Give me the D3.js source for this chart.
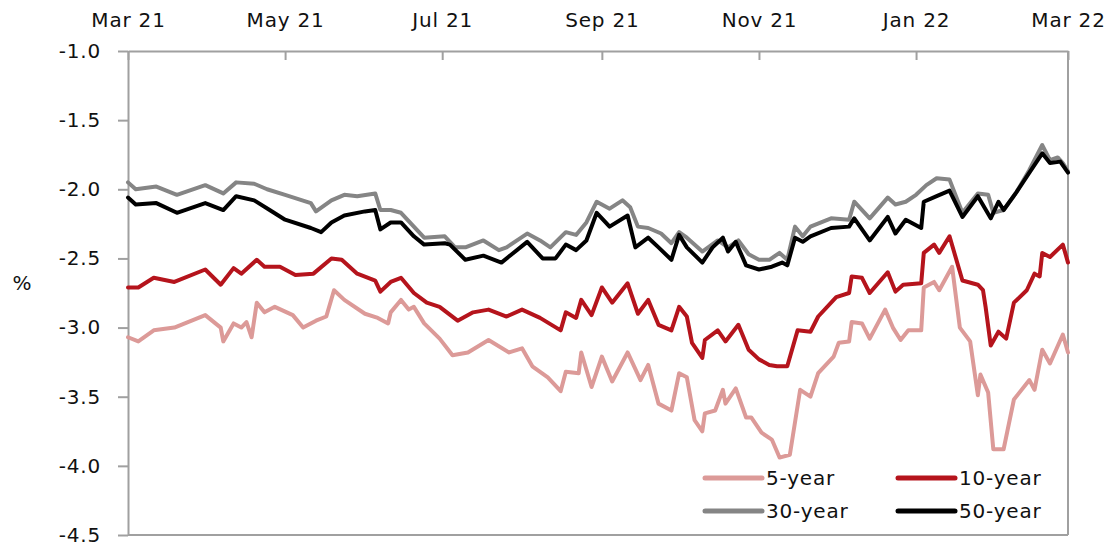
<!DOCTYPE html>
<html>
<head>
<meta charset="utf-8">
<script src="https://cdn.jsdelivr.net/npm/d3@7/dist/d3.min.js"></script>
<style>
    body { margin: 0; background: #fff; }
    svg text { font-family: "DejaVu Sans", Verdana, sans-serif; }
</style>
</head>
<body>
<svg width="1109" height="546"></svg>
<script>
var fiveYear = [
    ["2021-03-01",-3.07],["2021-03-05",-3.10],["2021-03-11",-3.02],["2021-03-19",-3.00],["2021-03-31",-2.91],
    ["2021-04-06",-3.00],["2021-04-07",-3.10],["2021-04-11",-2.97],["2021-04-14",-3.00],["2021-04-16",-2.96],
    ["2021-04-18",-3.07],["2021-04-20",-2.82],["2021-04-23",-2.89],["2021-04-27",-2.85],["2021-05-04",-2.91],
    ["2021-05-08",-3.00],["2021-05-13",-2.95],["2021-05-17",-2.92],["2021-05-20",-2.73],["2021-05-24",-2.80],
    ["2021-06-01",-2.90],["2021-06-06",-2.93],["2021-06-10",-2.97],["2021-06-11",-2.89],["2021-06-15",-2.80],
    ["2021-06-18",-2.87],["2021-06-20",-2.85],["2021-06-24",-2.97],["2021-06-30",-3.08],["2021-07-05",-3.20],
    ["2021-07-11",-3.18],["2021-07-19",-3.09],["2021-07-27",-3.18],["2021-08-01",-3.15],["2021-08-05",-3.28],
    ["2021-08-11",-3.36],["2021-08-16",-3.46],["2021-08-18",-3.32],["2021-08-23",-3.33],["2021-08-24",-3.18],
    ["2021-08-28",-3.43],["2021-09-01",-3.21],["2021-09-05",-3.39],["2021-09-11",-3.18],["2021-09-16",-3.38],
    ["2021-09-19",-3.27],["2021-09-23",-3.55],["2021-09-28",-3.60],["2021-10-01",-3.33],["2021-10-04",-3.36],
    ["2021-10-07",-3.67],["2021-10-10",-3.75],["2021-10-11",-3.62],["2021-10-15",-3.60],["2021-10-18",-3.45],
    ["2021-10-19",-3.55],["2021-10-23",-3.44],["2021-10-27",-3.65],["2021-10-29",-3.65],["2021-11-02",-3.76],
    ["2021-11-06",-3.81],["2021-11-09",-3.94],["2021-11-13",-3.92],["2021-11-17",-3.45],["2021-11-21",-3.50],
    ["2021-11-24",-3.33],["2021-11-30",-3.21],["2021-12-02",-3.11],["2021-12-06",-3.10],["2021-12-07",-2.96],
    ["2021-12-11",-2.97],["2021-12-14",-3.08],["2021-12-20",-2.87],["2021-12-23",-3.00],["2021-12-26",-3.09],
    ["2021-12-29",-3.02],["2022-01-03",-3.02],["2022-01-04",-2.71],["2022-01-08",-2.67],["2022-01-10",-2.73],
    ["2022-01-15",-2.56],["2022-01-18",-3.00],["2022-01-22",-3.10],["2022-01-25",-3.49],["2022-01-26",-3.34],
    ["2022-01-29",-3.47],["2022-01-31",-3.88],["2022-02-04",-3.88],["2022-02-08",-3.52],["2022-02-14",-3.38],
    ["2022-02-16",-3.45],["2022-02-19",-3.16],["2022-02-22",-3.26],["2022-02-27",-3.05],["2022-03-01",-3.18]
];
var tenYear = [
    ["2021-03-01",-2.71],["2021-03-05",-2.71],["2021-03-11",-2.64],["2021-03-19",-2.67],["2021-03-31",-2.58],
    ["2021-04-06",-2.69],["2021-04-11",-2.57],["2021-04-14",-2.61],["2021-04-20",-2.51],["2021-04-23",-2.56],
    ["2021-04-29",-2.56],["2021-05-05",-2.62],["2021-05-12",-2.61],["2021-05-19",-2.50],["2021-05-23",-2.51],
    ["2021-05-29",-2.61],["2021-06-05",-2.66],["2021-06-07",-2.74],["2021-06-11",-2.67],["2021-06-15",-2.64],
    ["2021-06-20",-2.75],["2021-06-25",-2.82],["2021-06-30",-2.85],["2021-07-07",-2.95],["2021-07-13",-2.89],
    ["2021-07-19",-2.87],["2021-07-26",-2.92],["2021-08-01",-2.87],["2021-08-08",-2.93],["2021-08-16",-3.02],
    ["2021-08-18",-2.89],["2021-08-22",-2.93],["2021-08-24",-2.80],["2021-08-28",-2.91],["2021-09-01",-2.71],
    ["2021-09-05",-2.82],["2021-09-11",-2.68],["2021-09-15",-2.90],["2021-09-19",-2.80],["2021-09-23",-2.98],
    ["2021-09-28",-3.02],["2021-10-01",-2.85],["2021-10-04",-2.92],["2021-10-06",-3.11],["2021-10-10",-3.22],
    ["2021-10-11",-3.09],["2021-10-16",-3.02],["2021-10-19",-3.10],["2021-10-24",-2.98],["2021-10-28",-3.16],
    ["2021-11-01",-3.23],["2021-11-05",-3.27],["2021-11-08",-3.28],["2021-11-12",-3.28],["2021-11-16",-3.02],
    ["2021-11-21",-3.03],["2021-11-24",-2.92],["2021-12-01",-2.78],["2021-12-06",-2.75],["2021-12-07",-2.63],
    ["2021-12-11",-2.64],["2021-12-14",-2.75],["2021-12-21",-2.60],["2021-12-24",-2.74],["2021-12-27",-2.69],
    ["2022-01-03",-2.68],["2022-01-04",-2.46],["2022-01-08",-2.40],["2022-01-10",-2.46],["2022-01-14",-2.34],
    ["2022-01-19",-2.66],["2022-01-25",-2.69],["2022-01-27",-2.73],["2022-01-28",-2.85],["2022-01-30",-3.13],
    ["2022-02-02",-3.03],["2022-02-05",-3.08],["2022-02-08",-2.82],["2022-02-13",-2.73],["2022-02-16",-2.61],
    ["2022-02-18",-2.63],["2022-02-19",-2.46],["2022-02-22",-2.49],["2022-02-27",-2.40],["2022-03-01",-2.53]
];
var thirtyYear = [
    ["2021-03-01",-1.95],["2021-03-04",-2.00],["2021-03-12",-1.98],["2021-03-20",-2.04],["2021-03-31",-1.97],
    ["2021-04-07",-2.03],["2021-04-12",-1.95],["2021-04-19",-1.96],["2021-04-24",-2.00],["2021-05-01",-2.04],
    ["2021-05-11",-2.10],["2021-05-13",-2.16],["2021-05-19",-2.08],["2021-05-24",-2.04],["2021-05-29",-2.05],
    ["2021-06-05",-2.03],["2021-06-07",-2.15],["2021-06-11",-2.15],["2021-06-15",-2.17],["2021-06-20",-2.27],
    ["2021-06-24",-2.35],["2021-07-02",-2.34],["2021-07-06",-2.42],["2021-07-10",-2.42],["2021-07-17",-2.37],
    ["2021-07-23",-2.44],["2021-07-26",-2.42],["2021-08-03",-2.32],["2021-08-08",-2.37],["2021-08-12",-2.42],
    ["2021-08-18",-2.31],["2021-08-22",-2.33],["2021-08-26",-2.24],["2021-08-30",-2.09],["2021-09-04",-2.14],
    ["2021-09-09",-2.08],["2021-09-12",-2.13],["2021-09-15",-2.27],["2021-09-19",-2.28],["2021-09-24",-2.32],
    ["2021-09-28",-2.39],["2021-10-01",-2.31],["2021-10-04",-2.35],["2021-10-10",-2.45],["2021-10-16",-2.37],
    ["2021-10-20",-2.42],["2021-10-24",-2.37],["2021-10-28",-2.47],["2021-11-01",-2.51],["2021-11-05",-2.51],
    ["2021-11-09",-2.46],["2021-11-12",-2.51],["2021-11-15",-2.27],["2021-11-18",-2.34],["2021-11-21",-2.27],
    ["2021-11-29",-2.21],["2021-12-06",-2.22],["2021-12-08",-2.09],["2021-12-14",-2.21],["2021-12-21",-2.06],
    ["2021-12-24",-2.11],["2021-12-28",-2.09],["2022-01-01",-2.04],["2022-01-05",-1.97],["2022-01-09",-1.92],
    ["2022-01-14",-1.93],["2022-01-19",-2.17],["2022-01-25",-2.03],["2022-01-29",-2.04],["2022-01-31",-2.17],
    ["2022-02-04",-2.15],["2022-02-09",-2.02],["2022-02-14",-1.86],["2022-02-19",-1.68],["2022-02-22",-1.79],
    ["2022-02-25",-1.77],["2022-02-27",-1.81],["2022-03-01",-1.87]
];
var fiftyYear = [
    ["2021-03-01",-2.06],["2021-03-04",-2.11],["2021-03-12",-2.10],["2021-03-20",-2.17],["2021-03-31",-2.10],
    ["2021-04-07",-2.15],["2021-04-12",-2.05],["2021-04-19",-2.08],["2021-04-25",-2.15],["2021-05-01",-2.22],
    ["2021-05-11",-2.28],["2021-05-15",-2.31],["2021-05-19",-2.24],["2021-05-24",-2.19],["2021-06-01",-2.16],
    ["2021-06-05",-2.15],["2021-06-07",-2.29],["2021-06-11",-2.24],["2021-06-15",-2.24],["2021-06-20",-2.34],
    ["2021-06-24",-2.40],["2021-07-02",-2.39],["2021-07-04",-2.40],["2021-07-10",-2.51],["2021-07-17",-2.48],
    ["2021-07-24",-2.53],["2021-08-03",-2.38],["2021-08-09",-2.50],["2021-08-14",-2.50],["2021-08-18",-2.40],
    ["2021-08-22",-2.44],["2021-08-26",-2.37],["2021-08-30",-2.17],["2021-09-04",-2.27],["2021-09-11",-2.19],
    ["2021-09-14",-2.42],["2021-09-19",-2.35],["2021-09-23",-2.42],["2021-09-28",-2.51],["2021-10-01",-2.33],
    ["2021-10-04",-2.42],["2021-10-10",-2.53],["2021-10-14",-2.42],["2021-10-18",-2.35],["2021-10-20",-2.45],
    ["2021-10-23",-2.38],["2021-10-27",-2.55],["2021-11-01",-2.58],["2021-11-06",-2.56],["2021-11-10",-2.53],
    ["2021-11-12",-2.55],["2021-11-15",-2.35],["2021-11-18",-2.38],["2021-11-21",-2.34],["2021-11-29",-2.28],
    ["2021-12-06",-2.27],["2021-12-08",-2.21],["2021-12-14",-2.37],["2021-12-21",-2.20],["2021-12-24",-2.32],
    ["2021-12-28",-2.22],["2022-01-03",-2.28],["2022-01-04",-2.09],["2022-01-09",-2.05],["2022-01-14",-2.01],
    ["2022-01-19",-2.20],["2022-01-25",-2.05],["2022-01-30",-2.21],["2022-02-02",-2.09],["2022-02-04",-2.15],
    ["2022-02-09",-2.02],["2022-02-14",-1.88],["2022-02-19",-1.74],["2022-02-22",-1.81],["2022-02-26",-1.80],
    ["2022-03-01",-1.88]
];

var seriesNames = ["5-year", "10-year", "30-year", "50-year"];
var seriesColors = ["#dc9a98", "#b5141c", "#858585", "#000000"];
var xTicks = ["2021-03-01", "2021-05-01", "2021-07-01", "2021-09-01", "2021-11-01", "2022-01-01", "2022-03-01"];
var yTicks = [-1.0, -1.5, -2.0, -2.5, -3.0, -3.5, -4.0, -4.5];

var parse = d3.isoParse;
var svg = d3.select("svg");

var x = d3.scaleTime()
    .domain([parse("2021-03-01"), parse("2022-03-01")])
    .range([128, 1068]);

var y = d3.scaleLinear()
    .domain([-4.5, -1.0])
    .range([535, 51]);

var axisColor = "#a0a0a0";

// plot frame (right + bottom)
svg.append("line")
    .attr("x1", x.range()[0]).attr("x2", x.range()[1])
    .attr("y1", y(-4.5)).attr("y2", y(-4.5))
    .attr("stroke", axisColor).attr("stroke-width", 2);
svg.append("line")
    .attr("x1", x.range()[1]).attr("x2", x.range()[1])
    .attr("y1", y(-1.0)).attr("y2", y(-4.5))
    .attr("stroke", axisColor).attr("stroke-width", 2);

// x axis sits on top, ticks point into the plot
var axisTop = d3.axisTop(x)
    .tickValues(xTicks.map(parse))
    .tickFormat(d3.timeFormat("%b %y"))
    .tickSizeInner(-9)
    .tickSizeOuter(0)
    .tickPadding(24);

var gx = svg.append("g")
    .attr("transform", "translate(0," + y(-1.0) + ")")
    .call(axisTop);

var axisLeft = d3.axisLeft(y)
    .tickValues(yTicks)
    .tickFormat(function (d) { return d.toFixed(1); })
    .tickSizeInner(10)
    .tickSizeOuter(0)
    .tickPadding(17);

var gy = svg.append("g")
    .attr("transform", "translate(" + x.range()[0] + ",0)")
    .call(axisLeft);

[gx, gy].forEach(function (g) {
    g.selectAll(".domain").attr("stroke", axisColor).attr("stroke-width", 2);
    g.selectAll(".tick line").attr("stroke", axisColor).attr("stroke-width", 2);
    g.selectAll(".tick text")
        .attr("fill", "#111")
        .style("font-family", "'DejaVu Sans', Verdana, sans-serif")
        .style("font-size", "20px")
        .style("letter-spacing", "0.8px");
});

svg.append("text")
    .attr("x", 22)
    .attr("y", 290)
    .attr("text-anchor", "middle")
    .attr("fill", "#111")
    .style("font-size", "20px")
    .text("%");

// lines
var line = d3.line()
    .x(function (d) { return x(parse(d[0])); })
    .y(function (d) { return y(d[1]); });

var layers = [fiveYear, tenYear, thirtyYear, fiftyYear];

svg.append("g").selectAll("path")
    .data(layers)
    .enter().append("path")
    .attr("d", line)
    .attr("fill", "none")
    .attr("stroke", function (d, i) { return seriesColors[i]; })
    .attr("stroke-width", 4)
    .attr("stroke-linejoin", "round")
    .attr("stroke-linecap", "round");

// legend, 2 x 2
var legend = svg.append("g").selectAll("g")
    .data(seriesNames)
    .enter().append("g")
    .attr("transform", function (d, i) {
        return "translate(" + (705 + (i % 2) * 193) + "," + (478 + Math.floor(i / 2) * 33) + ")";
    });

legend.append("line")
    .attr("x1", 0).attr("x2", 57)
    .attr("stroke", function (d, i) { return seriesColors[i]; })
    .attr("stroke-width", 5)
    .attr("stroke-linecap", "round");

legend.append("text")
    .attr("x", 61)
    .attr("y", 7)
    .attr("fill", "#111")
    .style("font-size", "20px")
    .style("letter-spacing", "0.8px")
    .text(function (d) { return d; });
</script>
</body>
</html>
